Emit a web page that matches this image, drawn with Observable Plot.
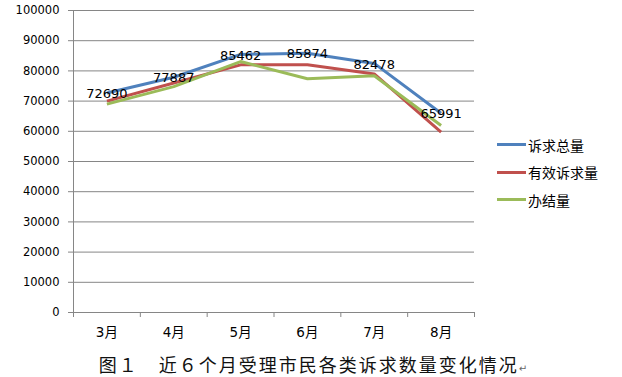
<!DOCTYPE html>
<html>
<head>
<meta charset="utf-8">
<script src="https://cdn.jsdelivr.net/npm/d3@7"></script>
<script src="https://cdn.jsdelivr.net/npm/@observablehq/plot@0.6"></script>
<style>
  html, body { margin: 0; padding: 0; background: #fff; }
  #wrap { position: relative; width: 622px; height: 377px; overflow: hidden; background: #fff; }
  #legend { position: absolute; left: 497px; top: 131px; font-family: "Noto Sans CJK SC", sans-serif; font-size: 14px; color: #000; }
  .item { display: flex; align-items: center; height: 27.5px; }
  .sw { width: 29px; height: 3px; margin-right: 2px; }
  #caption { position: absolute; left: 0; width: 622px; top: 352px; text-align: center; font-family: "Noto Sans CJK SC", sans-serif; font-size: 18px; letter-spacing: 2px; color: #111; line-height: 24px; padding-left: 4px; box-sizing: border-box; }
  #caption .pm { font-family: "DejaVu Sans"; font-size: 10px; color: #666; letter-spacing: 0; }
</style>
</head>
<body>
<div id="wrap">
  <div id="chart"></div>
  <div id="legend"></div>
  <div id="caption">图１　近６个月受理市民各类诉求数量变化情况<span class="pm">↵</span></div>
</div>
<script>
const months = ["3月", "4月", "5月", "6月", "7月", "8月"];
const seriesNames = ["诉求总量", "有效诉求量", "办结量"];
const total = [72690, 77887, 85462, 85874, 82478, 65991];
const effective = [70000, 76000, 82000, 82000, 79000, 59700];
const completed = [69000, 74800, 83100, 77400, 78400, 61900];
const yTicks = [0, 10000, 20000, 30000, 40000, 50000, 60000, 70000, 80000, 90000, 100000];
const colors = ["#4F81BD", "#C0504D", "#9BBB59"];

const seriesValues = [total, effective, completed];
const rows = [];
seriesValues.forEach((vals, s) => vals.forEach((v, i) => rows.push({series: seriesNames[s], i, v})));
const totalRows = total.map((v, i) => ({i, v}));
const centers = months.map((m, i) => i);
const bounds = d3.range(-0.5, months.length, 1);

const plot = Plot.plot({
  width: 622,
  height: 345,
  marginLeft: 73,
  marginRight: 148,
  marginTop: 10,
  marginBottom: 33,
  style: {fontFamily: "'DejaVu Sans', 'Noto Sans CJK SC', sans-serif", fontSize: "11.5px", color: "#000", background: "transparent"},
  x: {type: "linear", domain: [-0.5, months.length - 0.5]},
  y: {domain: [0, 100000]},
  color: {domain: seriesNames, range: colors},
  marks: [
    Plot.gridY(yTicks, {stroke: "#868686", strokeOpacity: 1}),
    Plot.ruleX([-0.5], {stroke: "#868686", strokeWidth: 1}),
    Plot.axisY({ticks: yTicks, tickSize: 5, tickPadding: 9, tickFormat: d => `${d}`, stroke: "#868686", label: null}),
    Plot.axisX({ticks: centers, tickSize: 0, tickPadding: 15, tickFormat: i => months[i], fontSize: 13.5, label: null}),
    Plot.axisX({ticks: bounds, tickSize: 5, tickFormat: () => "", stroke: "#868686", label: null}),
    Plot.line(rows, {x: "i", y: "v", z: "series", stroke: "series", strokeWidth: 3, strokeLinejoin: "miter", strokeLinecap: "butt"}),
    Plot.text(totalRows, {x: "i", y: "v", text: d => `${d.v}`, fontSize: 13, fill: "#000", dy: 1})
  ]
});
document.getElementById("chart").appendChild(plot);

const legend = document.getElementById("legend");
seriesNames.forEach((n, k) => {
  const it = document.createElement("div");
  it.className = "item";
  it.innerHTML = `<span class="sw" style="background:${colors[k]}"></span><span>${n}</span>`;
  legend.appendChild(it);
});
</script>
</body>
</html>
